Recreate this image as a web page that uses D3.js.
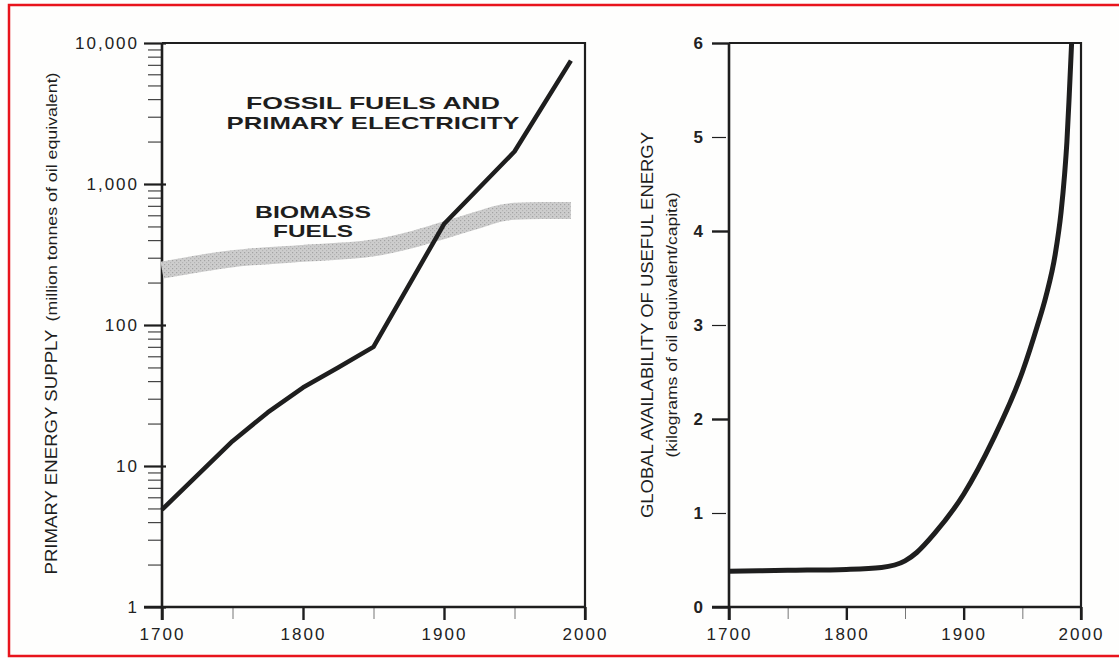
<!DOCTYPE html>
<html>
<head>
<meta charset="utf-8">
<script src="https://cdn.jsdelivr.net/npm/d3@7"></script>
<style>
  body { margin: 0; background: #fff; }
  svg { display: block; }
  .tick text { font-family: "Liberation Sans", Arial, sans-serif; font-size: 17px; fill: #222; letter-spacing: 2px; }
</style>
</head>
<body>
<div id="chart"></div>
<script>
// left panel: primary energy supply, log scale
var fossilYears = [1700, 1750, 1775, 1800, 1825, 1850, 1900, 1950, 1990];
var fossilValues = [4.9, 15, 24, 36, 50, 70, 520, 1700, 7500];
var biomassYears = [1700, 1750, 1800, 1850, 1880, 1900, 1925, 1940, 1950, 1970, 1990];
var biomassValues = [245, 295, 322, 352, 410, 470, 560, 620, 640, 650, 650];
var logTicks = [1, 10, 100, 1000, 10000];
var logTickLabels = ["1", "10", "100", "1,000", "10,000"];

// right panel: useful energy per capita
var perCapYears = [1700, 1750, 1800, 1830, 1850, 1860, 1875, 1900, 1925, 1950, 1963, 1970, 1978, 1983, 1986, 1988, 1990, 1992];
var perCapValues = [0.38, 0.39, 0.40, 0.42, 0.49, 0.58, 0.78, 1.2, 1.78, 2.5, 3.0, 3.3, 3.75, 4.2, 4.6, 4.95, 5.45, 6.0];
var linTicks = [0, 1, 2, 3, 4, 5, 6];

var yearTicks = [1700, 1800, 1900, 2000];
var yearMinor = [1750, 1850, 1950];

var W = 1119, H = 658;
var ink = "#1e1e1e";
var plotTop = 43, plotBottom = 607;

var svg = d3.select("#chart").append("svg")
    .attr("width", W)
    .attr("height", H);

svg.append("rect").attr("width", W).attr("height", H).attr("fill", "#fefefd");

// red frame round the picture (runs off the right edge)
svg.append("path")
    .attr("d", "M" + (W + 5) + ",5 H9 V656 H" + (W + 5))
    .attr("fill", "none")
    .attr("stroke", "#e8141c")
    .attr("stroke-width", 2.5);

var defs = svg.append("defs");
var pat = defs.append("pattern")
    .attr("id", "grain")
    .attr("width", 4).attr("height", 4)
    .attr("patternUnits", "userSpaceOnUse");
pat.append("rect").attr("width", 4).attr("height", 4).attr("fill", "#cdcdcd");
pat.append("rect").attr("x", 0).attr("y", 0).attr("width", 1.2).attr("height", 1.2).attr("fill", "#a2a2a2");
pat.append("rect").attr("x", 2).attr("y", 2).attr("width", 1.2).attr("height", 1.2).attr("fill", "#b4b4b4");

// ---------- left panel ----------
var xL = d3.scaleLinear().domain([1700, 2000]).range([162, 585]);
var yL = d3.scaleLog().domain([1, 10000]).range([plotBottom, plotTop]);

var minorLog = [];
logTicks.slice(0, -1).forEach(function (d) {
  for (var k = 2; k < 10; k++) minorLog.push(d * k);
});

var left = svg.append("g");

// frame top and right
left.append("path")
    .attr("d", "M" + xL(1700) + "," + yL(10000) + " H" + xL(2000) + " V" + (plotBottom + 13))
    .attr("fill", "none").attr("stroke", ink).attr("stroke-width", 2.2);

var yAxL = d3.axisLeft(yL).tickValues(logTicks)
    .tickFormat(function (d, i) { return logTickLabels[i]; })
    .tickSize(22).tickPadding(6);
var gyL = left.append("g").attr("transform", "translate(" + (xL(1700) + 4) + ",0)").call(yAxL);
gyL.select(".domain").remove();
gyL.selectAll(".tick line").attr("stroke", ink).attr("stroke-width", 2.2);
gyL.selectAll(".tick text").attr("x", -27);

var gyLm = left.append("g").attr("transform", "translate(" + xL(1700) + ",0)")
    .call(d3.axisLeft(yL).tickValues(minorLog).tickSize(14).tickFormat(""));
gyLm.select(".domain").remove();
gyLm.selectAll(".tick line").attr("stroke", "#444").attr("stroke-width", 1.2);

var xAxL = d3.axisBottom(xL).tickValues(yearTicks).tickSize(13).tickPadding(8).tickFormat(d3.format("d"));
var gxL = left.append("g").attr("transform", "translate(0," + plotBottom + ")").call(xAxL);
gxL.select(".domain").remove();
gxL.selectAll(".tick line").attr("stroke", ink).attr("stroke-width", 2.4);
var gxLm = left.append("g").attr("transform", "translate(0," + plotBottom + ")")
    .call(d3.axisBottom(xL).tickValues(yearMinor).tickSize(12).tickFormat(""));
gxLm.select(".domain").remove();
gxLm.selectAll(".tick line").attr("stroke", "#777").attr("stroke-width", 1);

left.append("line").attr("x1", xL(1700) - 18).attr("x2", xL(2000))
    .attr("y1", plotBottom).attr("y2", plotBottom).attr("stroke", ink).attr("stroke-width", 2.4);
left.append("line").attr("x1", xL(1700)).attr("x2", xL(1700))
    .attr("y1", plotTop).attr("y2", plotBottom + 13).attr("stroke", ink).attr("stroke-width", 2.6);

var biomass = biomassYears.map(function (d, i) { return [d, biomassValues[i]]; });
var fossil = fossilYears.map(function (d, i) { return [d, fossilValues[i]]; });

left.append("path")
    .datum(biomass)
    .attr("d", d3.line().x(function (d) { return xL(d[0]); }).y(function (d) { return yL(d[1]); }).curve(d3.curveMonotoneX))
    .attr("fill", "none")
    .attr("stroke", "url(#grain)")
    .attr("stroke-width", 17);

left.append("path")
    .datum(fossil)
    .attr("d", d3.line().x(function (d) { return xL(d[0]); }).y(function (d) { return yL(d[1]); }))
    .attr("fill", "none")
    .attr("stroke", ink)
    .attr("stroke-width", 4.5)
    .attr("stroke-linejoin", "round");

function label(g, txt, x, y, len, size, weight, rot) {
  var t = g.append("text")
      .attr("font-family", "Liberation Sans, Arial, sans-serif")
      .attr("font-size", size)
      .attr("font-weight", weight)
      .attr("fill", ink)
      .attr("text-anchor", "middle")
      .attr("textLength", len)
      .attr("lengthAdjust", "spacingAndGlyphs")
      .text(txt);
  if (rot) t.attr("transform", "translate(" + x + "," + y + ") rotate(-90)");
  else t.attr("x", x).attr("y", y);
  return t;
}

label(left, "FOSSIL FUELS AND", 373, 109, 254, 17, "bold");
label(left, "PRIMARY ELECTRICITY", 373, 129, 293, 17, "bold");
label(left, "BIOMASS", 313, 218, 116, 17, "bold");
label(left, "FUELS", 313, 237, 80, 17, "bold");

label(svg, "PRIMARY ENERGY SUPPLY", 57, 452, 245, 17, "normal", true);
label(svg, "(million tonnes of oil equivalent)", 57, 197, 249, 15, "normal", true);

// ---------- right panel ----------
var xR = d3.scaleLinear().domain([1700, 2000]).range([729, 1081]);
var yR = d3.scaleLinear().domain([0, 6]).range([plotBottom, plotTop]);

var right = svg.append("g");

right.append("path")
    .attr("d", "M" + xR(1700) + "," + yR(6) + " H" + xR(2000) + " V" + (plotBottom + 13))
    .attr("fill", "none").attr("stroke", ink).attr("stroke-width", 2.2);

var gyR = right.append("g").attr("transform", "translate(" + xR(1700) + ",0)")
    .call(d3.axisLeft(yR).tickValues(linTicks).tickSize(17).tickPadding(9).tickFormat(d3.format("d")));
gyR.select(".domain").remove();
gyR.selectAll(".tick line")
    .attr("stroke", ink)
    .attr("stroke-width", function (d) { return d % 2 === 0 ? 2.4 : 1.2; })
    .attr("x1", function (d) { return d % 2 === 0 ? 0 : -3; });
gyR.selectAll(".tick text").attr("font-weight", "bold").style("letter-spacing", "0px");

var gxR = right.append("g").attr("transform", "translate(0," + plotBottom + ")")
    .call(d3.axisBottom(xR).tickValues(yearTicks).tickSize(13).tickPadding(8).tickFormat(d3.format("d")));
gxR.select(".domain").remove();
gxR.selectAll(".tick line").attr("stroke", ink).attr("stroke-width", 2.4);
var gxRm = right.append("g").attr("transform", "translate(0," + plotBottom + ")")
    .call(d3.axisBottom(xR).tickValues(yearMinor).tickSize(12).tickFormat(""));
gxRm.select(".domain").remove();
gxRm.selectAll(".tick line").attr("stroke", "#777").attr("stroke-width", 1);

right.append("line").attr("x1", xR(1700) - 17).attr("x2", xR(2000))
    .attr("y1", plotBottom).attr("y2", plotBottom).attr("stroke", ink).attr("stroke-width", 2.4);
right.append("line").attr("x1", xR(1700)).attr("x2", xR(1700))
    .attr("y1", plotTop).attr("y2", plotBottom + 13).attr("stroke", ink).attr("stroke-width", 2.6);

defs.append("clipPath").attr("id", "clipR").append("rect")
    .attr("x", xR(1700)).attr("y", plotTop).attr("width", xR(2000) - xR(1700)).attr("height", plotBottom - plotTop);

var perCap = perCapYears.map(function (d, i) { return [d, perCapValues[i]]; });
right.append("path")
    .datum(perCap)
    .attr("clip-path", "url(#clipR)")
    .attr("d", d3.line().x(function (d) { return xR(d[0]); }).y(function (d) { return yR(d[1]); }).curve(d3.curveMonotoneX))
    .attr("fill", "none")
    .attr("stroke", ink)
    .attr("stroke-width", 5);

label(svg, "GLOBAL AVAILABILITY OF USEFUL ENERGY", 653, 325, 386, 17, "normal", true);
label(svg, "(kilograms of oil equivalent/capita)", 677, 325, 265, 15, "normal", true);
</script>
</body>
</html>
